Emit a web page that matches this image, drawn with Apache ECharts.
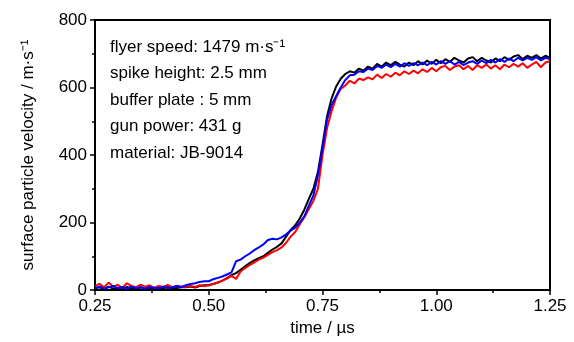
<!DOCTYPE html>
<html>
<head>
<meta charset="utf-8">
<script src="https://cdn.jsdelivr.net/npm/echarts@6/dist/echarts.min.js"></script>
<style>
    html, body { margin: 0; padding: 0; background: #fff; }
    #chart { width: 574px; height: 342px; }
</style>
</head>
<body>
<div id="chart"></div>
<script>
// time samples: 0.25 .. 1.25 us, step 0.01
var tStart = 0.25;
var tStep = 0.01;

var xTicks = [0.25, 0.5, 0.75, 1.0, 1.25];
var xTickLabels = ['0.25', '0.50', '0.75', '1.00', '1.25'];
var yTicks = [0, 200, 400, 600, 800];

var infoLines = [
    'flyer speed: 1479 m·s⁻¹',
    'spike height: 2.5 mm',
    'buffer plate : 5 mm',
    'gun power: 431 g',
    'material: JB-9014'
];

var blackV = [
    5, 8, 3, 10, 4, 7, 2, 9, 5, 3, 8, 4, 6, 2, 7, 5, 9, 4, 6, 8,
    8, 10, 7, 12, 14,
    15, 18, 22, 28, 35, 44, 50, 60, 70, 80,
    88, 94, 100, 110, 120, 128, 138, 158, 178, 192,
    212, 238, 270, 300, 350, 430, 515, 568, 603, 626,
    640, 648, 644, 656, 650, 662, 656, 670, 662, 674,
    666, 676, 668, 662, 674, 666, 678, 668, 680, 670,
    682, 672, 684, 676, 688, 680, 674, 686, 690, 678,
    688, 680, 674, 686, 678, 690, 682, 692, 696, 684,
    694, 688, 696, 686, 694, 688
];

var redV = [
    12, 18, 8, 22, 10, 15, 6, 20, 12, 8, 16, 10, 14, 6, 12, 9, 15, 8, 12, 10,
    10, 12, 9, 14, 12,
    13, 18, 22, 28, 34, 42, 33, 55, 65, 74,
    82, 90, 96, 104, 112, 118, 126, 140, 158, 172,
    195, 215, 240, 264, 300, 400, 480, 530, 570, 596,
    606, 620, 612, 626, 622, 630, 624, 638, 628, 640,
    632, 644, 636, 648, 640, 650, 642, 654, 646, 658,
    648, 660, 664, 652, 662, 666, 654, 664, 652, 666,
    658, 668, 656, 666, 654, 668, 660, 670, 662, 672,
    658, 668, 676, 660, 674, 678
];

var blueV = [
    6, 10, 4, 8, 12, 5, 9, 3, 10, 6, 8, 4, 9, 7, 5, 10, 6, 8, 12, 9,
    14, 18, 20, 24, 26,
    26, 32, 36, 40, 46, 52, 85, 90, 100, 108,
    118, 126, 135, 148, 152, 150, 156, 165, 176, 185,
    200, 218, 250, 280, 340, 420, 505, 548, 575, 600,
    622, 636, 638, 648, 646, 656, 652, 664, 658, 668,
    660, 670, 662, 672, 664, 672, 666, 674, 666, 676,
    668, 678, 670, 678, 668, 676, 666, 674, 678, 670,
    680, 672, 682, 674, 684, 676, 686, 678, 688, 680,
    688, 682, 690, 680, 688, 684
];

function toPairs(vals) {
    var out = [];
    for (var i = 0; i < vals.length; i++) {
        out.push([+(tStart + i * tStep).toFixed(2), vals[i]]);
    }
    return out;
}

var fontName = '"Liberation Sans", Arial, sans-serif';

var chart = echarts.init(document.getElementById('chart'));
var option = {
    animation: false,
    backgroundColor: '#fff',
    textStyle: { fontFamily: fontName },
    grid: {
        left: 95, right: 24, top: 20, bottom: 50,
        show: true, borderColor: '#000', borderWidth: 2,
        containLabel: false
    },
    title: {
        text: infoLines.join('\n'),
        left: 105, top: 29,
        textStyle: {
            fontFamily: fontName, fontSize: 17, fontWeight: 'normal',
            color: '#000', lineHeight: 26.5
        }
    },
    xAxis: {
        type: 'value',
        min: xTicks[0], max: xTicks[xTicks.length - 1], interval: 0.25,
        name: 'time / µs',
        nameLocation: 'middle',
        nameGap: 30,
        nameTextStyle: { fontSize: 17, color: '#000', fontFamily: fontName },
        axisLine: { show: true, lineStyle: { color: '#000', width: 2 } },
        axisTick: { show: true, inside: false, length: 5, lineStyle: { color: '#000', width: 1.5 } },
        minorTick: { show: true, splitNumber: 2, length: 3, lineStyle: { color: '#000', width: 1.5 } },
        axisLabel: {
            fontSize: 17, color: '#000', margin: 8, fontFamily: fontName,
            formatter: function (v) {
                var i = xTicks.indexOf(+v.toFixed(2));
                return i >= 0 ? xTickLabels[i] : '';
            }
        },
        splitLine: { show: false }
    },
    yAxis: {
        type: 'value',
        min: yTicks[0], max: yTicks[yTicks.length - 1], interval: 200,
        name: 'surface particle velocity / m·s⁻¹',
        nameLocation: 'middle',
        nameGap: 58,
        nameTextStyle: { fontSize: 17, color: '#000', fontFamily: fontName },
        axisLine: { show: true, lineStyle: { color: '#000', width: 2 } },
        axisTick: { show: true, inside: false, length: 5, lineStyle: { color: '#000', width: 1.5 } },
        minorTick: { show: true, splitNumber: 2, length: 3, lineStyle: { color: '#000', width: 1.5 } },
        axisLabel: { fontSize: 17, color: '#000', margin: 8, fontFamily: fontName },
        splitLine: { show: false }
    },
    series: [
        {
            type: 'line', name: 'black', data: toPairs(blackV),
            showSymbol: false, symbol: 'none',
            lineStyle: { color: '#000000', width: 2 }
        },
        {
            type: 'line', name: 'red', data: toPairs(redV),
            showSymbol: false, symbol: 'none',
            lineStyle: { color: '#ff0000', width: 2 }
        },
        {
            type: 'line', name: 'blue', data: toPairs(blueV),
            showSymbol: false, symbol: 'none',
            lineStyle: { color: '#0000ff', width: 2 }
        }
    ]
};
chart.setOption(option, true);
window.addEventListener('resize', function () {
    chart.resize();
});
</script>
</body>
</html>
